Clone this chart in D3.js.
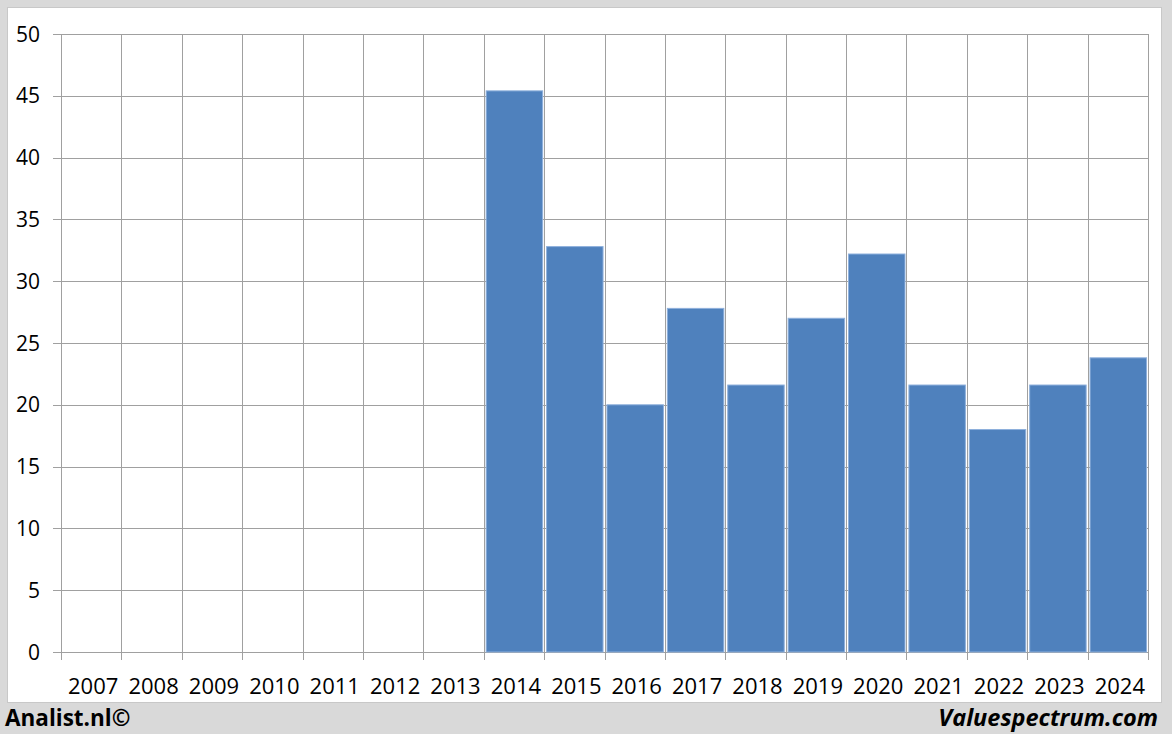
<!DOCTYPE html>
<html><head><meta charset="utf-8">
<script src="https://cdn.jsdelivr.net/npm/d3@7"></script>
<style>html,body{margin:0;padding:0;background:#d9d9d9;}svg{display:block;}</style>
</head><body>
<script>
const categories = ["2007","2008","2009","2010","2011","2012","2013","2014","2015","2016","2017","2018","2019","2020","2021","2022","2023","2024"];
const values = [null,null,null,null,null,null,null,45.4,32.8,20.0,27.8,21.6,27.0,32.2,21.6,18.0,21.6,23.8];
const yTicks = [0,5,10,15,20,25,30,35,40,45,50];

const W=1172,H=734;
const svg=d3.select("body").append("svg").attr("width",W).attr("height",H);
svg.append("rect").attr("width",W).attr("height",H).attr("fill","#d9d9d9");
svg.append("rect").attr("x",7.5).attr("y",7.5).attr("width",1154).attr("height",695).attr("fill","#fff").attr("stroke","#c8c8c8");

const L=61,R=1148,T=34,B=652;
const x=d3.scaleBand().domain(categories).range([L,R]).paddingInner(0.065).paddingOuter(0.0325);
const xb=d3.scaleBand().domain(categories).range([L,R]).padding(0);
const y=d3.scaleLinear().domain([0,50]).range([B,T]);

const g=svg.append("g");
g.selectAll("line.h").data(yTicks).join("line")
 .attr("x1",L-8).attr("x2",R).attr("y1",d=>Math.round(y(d))+0.5).attr("y2",d=>Math.round(y(d))+0.5)
 .attr("stroke","#a0a0a0").attr("stroke-width",1);
const bounds=categories.map(c=>xb(c)).concat([R]);
g.selectAll("line.v").data(bounds).join("line")
 .attr("x1",d=>Math.round(d)+0.5).attr("x2",d=>Math.round(d)+0.5).attr("y1",T).attr("y2",B+8)
 .attr("stroke","#a0a0a0").attr("stroke-width",1);

g.selectAll("rect.bar").data(categories.map((c,i)=>({c,v:values[i]})).filter(d=>d.v!=null)).join("rect")
 .attr("x",d=>x(d.c)+0.5).attr("width",x.bandwidth())
 .attr("y",d=>y(d.v)).attr("height",d=>B-y(d.v))
 .attr("fill","#4f81bd").attr("stroke","#8eb0dc").attr("stroke-width",1);

svg.selectAll("text.y").data(yTicks).join("text")
 .attr("x",40).attr("y",d=>y(d)).attr("dy","0.36em").attr("text-anchor","end")
 .attr("font-family","Open Sans, sans-serif").attr("font-size",21).attr("fill","#000").text(d=>d);
svg.selectAll("text.x").data(categories).join("text")
 .attr("x",d=>xb(d)+xb.bandwidth()/2+2).attr("y",694).attr("text-anchor","middle")
 .attr("font-family","Open Sans, sans-serif").attr("font-size",22).attr("fill","#000").text(d=>d);

svg.append("text").attr("x",5).attr("y",726).attr("font-family","Open Sans, sans-serif").attr("font-weight","bold")
 .attr("font-size",22.5).attr("fill","#000").text("Analist.nl©");
svg.append("text").attr("x",1158).attr("y",726).attr("text-anchor","end").attr("font-family","Open Sans, sans-serif").attr("font-weight","bold").attr("font-style","italic")
 .attr("font-size",23.5).attr("fill","#000").text("Valuespectrum.com");
</script>
</body></html>
